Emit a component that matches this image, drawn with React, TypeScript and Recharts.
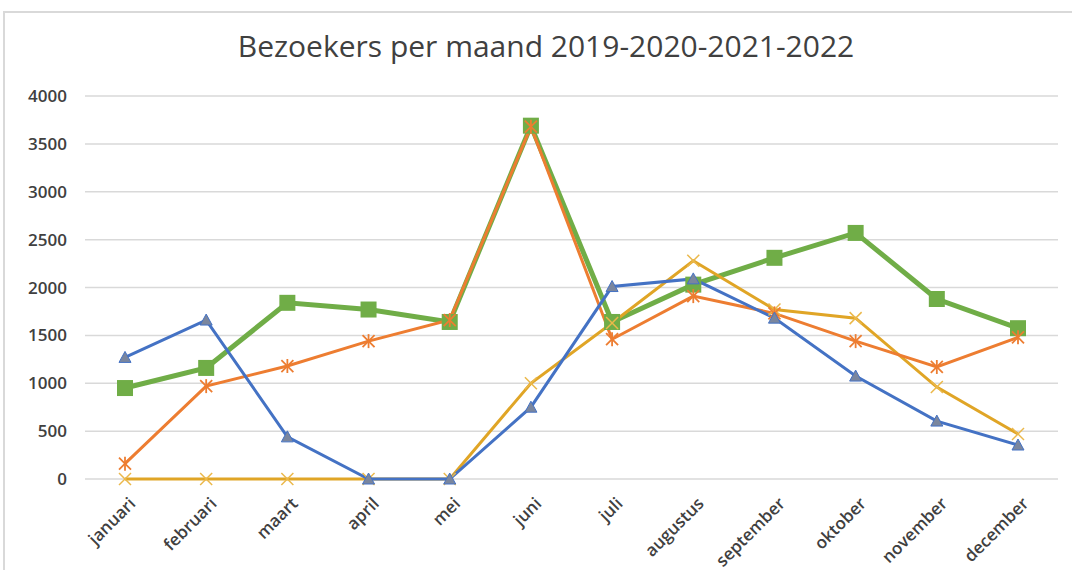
import { LineChart, Line, XAxis, YAxis, CartesianGrid } from 'recharts'

const months = ['januari', 'februari', 'maart', 'april', 'mei', 'juni', 'juli', 'augustus', 'september', 'oktober', 'november', 'december']
const visitors2019 = [160, 970, 1180, 1440, 1660, 3680, 1460, 1910, 1730, 1440, 1170, 1480]
const visitors2020 = [1270, 1660, 440, 0, 0, 750, 2010, 2090, 1680, 1075, 605, 355]
const visitors2021 = [0, 0, 0, 0, 0, 1000, 1630, 2280, 1770, 1680, 960, 470]
const visitors2022 = [950, 1160, 1840, 1770, 1640, 3690, 1640, 2030, 2310, 2570, 1880, 1575]
const yTicks = [0, 500, 1000, 1500, 2000, 2500, 3000, 3500, 4000]

const data = months.map((m, i) => ({
  maand: m,
  j2019: visitors2019[i],
  j2020: visitors2020[i],
  j2021: visitors2021[i],
  j2022: visitors2022[i]
}))

const font = '"Open Sans", "Liberation Sans", sans-serif'

const triangleDot = (props: any) => {
  const { cx, cy, index } = props
  if (cx == null || cy == null) return <g key={`t-${index}`} />
  return (
    <path
      key={`t-${index}`}
      d={`M${cx},${cy - 6} L${cx + 6},${cy + 5} L${cx - 6},${cy + 5} Z`}
      fill="#7a869e"
      stroke="#4472C4"
      strokeWidth={1}
    />
  )
}

const squareDot = (props: any) => {
  const { cx, cy, index } = props
  if (cx == null || cy == null) return <g key={`s-${index}`} />
  return <rect key={`s-${index}`} x={cx - 8} y={cy - 8} width={16} height={16} fill="#70AD47" />
}

const starDot = (props: any) => {
  const { cx, cy, index } = props
  if (cx == null || cy == null) return <g key={`a-${index}`} />
  const s = 6
  return (
    <g key={`a-${index}`} stroke="#ED7D31" strokeWidth={1.8}>
      <line x1={cx - s} y1={cy - s} x2={cx + s} y2={cy + s} />
      <line x1={cx - s} y1={cy + s} x2={cx + s} y2={cy - s} />
      <line x1={cx} y1={cy - s - 1} x2={cx} y2={cy + s + 1} />
    </g>
  )
}

const crossDot = (props: any) => {
  const { cx, cy, index } = props
  if (cx == null || cy == null) return <g key={`x-${index}`} />
  const s = 6
  return (
    <g key={`x-${index}`} stroke="#EBB84A" strokeWidth={1.5}>
      <line x1={cx - s} y1={cy - s} x2={cx + s} y2={cy + s} />
      <line x1={cx - s} y1={cy + s} x2={cx + s} y2={cy - s} />
    </g>
  )
}

const MonthTick = ({ x, y, payload }: any) => (
  <g transform={`translate(${x + 6},${y + 12})`}>
    <text
      x={0}
      y={0}
      dy={8}
      textAnchor="end"
      transform="rotate(-45)"
      fontSize={17}
      fontWeight={600}
      fontFamily={font}
      fill="#404040"
    >
      {payload.value}
    </text>
  </g>
)

export default function App() {
  return (
    <div style={{ position: 'absolute', left: 0, top: 0, width: 1072, height: 570, overflow: 'hidden', background: '#fff' }}>
      <div
        style={{
          position: 'absolute',
          left: 3,
          top: 11,
          width: 1100,
          height: 600,
          border: '2px solid #d9d9d9'
        }}
      />
      <div
        style={{
          position: 'absolute',
          left: 0,
          top: 25,
          width: 1092,
          textAlign: 'center',
          fontFamily: font,
          fontSize: 30,
          color: '#404040'
        }}
      >
        Bezoekers per maand 2019-2020-2021-2022
      </div>
      <div style={{ position: 'absolute', left: 0, top: 0 }}>
        <LineChart width={1072} height={570} data={data} margin={{ top: 96, right: 14, bottom: 11, left: 25 }}>
          <CartesianGrid vertical={false} stroke="#d9d9d9" strokeWidth={1.5} />
          <XAxis
            dataKey="maand"
            axisLine={false}
            tickLine={false}
            interval={0}
            height={80}
            padding={{ left: 40, right: 40 }}
            tick={<MonthTick />}
          />
          <YAxis
            domain={[0, 4000]}
            ticks={yTicks}
            width={60}
            axisLine={false}
            tickLine={false}
            tickMargin={12}
            tick={{ fontSize: 17, fontWeight: 600, fill: '#404040', fontFamily: font }}
          />
          <Line dataKey="j2022" name="2022" stroke="#70AD47" strokeWidth={5} dot={squareDot} isAnimationActive={false} />
          <Line dataKey="j2021" name="2021" stroke="#E0A526" strokeWidth={3} dot={crossDot} isAnimationActive={false} />
          <Line dataKey="j2019" name="2019" stroke="#ED7D31" strokeWidth={3} dot={starDot} isAnimationActive={false} />
          <Line dataKey="j2020" name="2020" stroke="#4472C4" strokeWidth={3} dot={triangleDot} isAnimationActive={false} />
        </LineChart>
      </div>
    </div>
  )
}
